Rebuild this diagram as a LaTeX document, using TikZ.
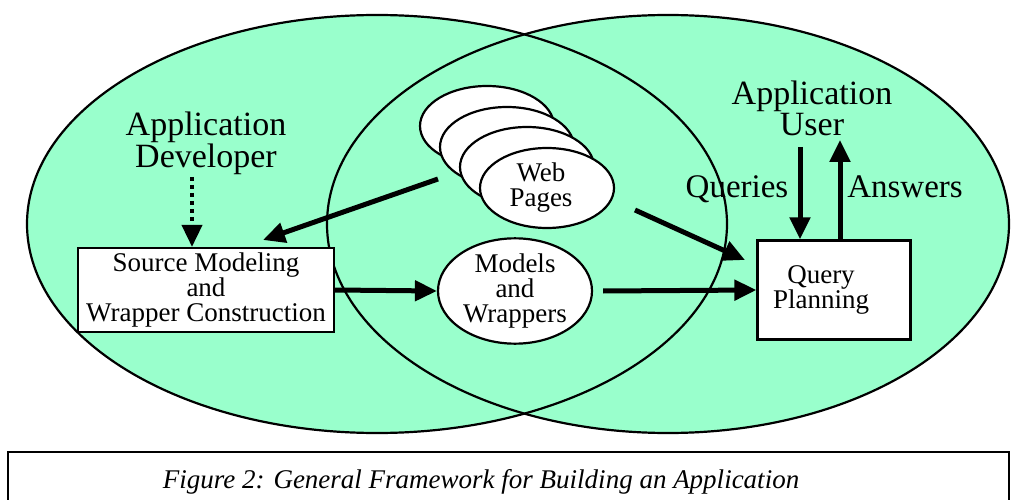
\documentclass[tikz,border=0pt]{standalone}
\usepackage{fontspec}
\setmainfont{Liberation Serif}
\usepackage{tikz}
\usetikzlibrary{shapes.geometric}
\usetikzlibrary{arrows.meta}
\definecolor{aqua}{RGB}{153,255,204}
\newcommand*{\pageX}[3]{%
  \node [ webpage ] (#1) at (#2) {%
    #3
  };
}

\begin{document}
\begin{tikzpicture}[x=1pt, y=-1pt,
    zone/.style = {fill=aqua},
    rim/.style = {draw, line width=2.2pt},
    webpage/.style = {ellipse, draw, fill=white, line width=2.2pt,
                      minimum width=134pt, minimum height=80pt, inner sep=0pt,
                      align=center, font=\fontsize{27}{25}\selectfont},
    stage/.style = {draw, fill=white, line width=2.2pt, inner sep=0pt,
                    align=center, font=\fontsize{27}{25}\selectfont},
    actor/.style = {inner sep=0pt, align=center,
                    font=\fontsize{34}{29.5}\selectfont},
    channel/.style = {inner sep=0pt, anchor=base,
                      font=\fontsize{33}{33}\selectfont},
    flow/.style = {line width=5pt, -{Triangle[length=22pt,width=20pt]}},
    caption/.style = {inner sep=0pt, anchor=base,
                      font=\fontsize{27}{27}\selectfont\itshape}]

\useasboundingbox (0,0) rectangle (1013,500);
%
\fill [zone] (377,224) ellipse [x radius=350, y radius=209];
\fill [zone] (668,224) ellipse [x radius=341, y radius=209];
\draw [rim] (377,224) ellipse [x radius=350, y radius=209];
\draw [rim] (668,224) ellipse [x radius=341, y radius=209];
%
\pageX{page_a}{487,126}{}
\pageX{page_b}{507,147}{}
\pageX{page_c}{527,167}{}
\pageX{web_pages}{547,188}{\hspace*{-12pt}Web\\\hspace*{-12pt}Pages}
%
\node (app_dev) [actor] at (206,143.5) {Application\\Developer};
\node (app_user) [actor] at (812,108.5) {Application\\User};
\node (src_model) [stage, minimum width=256pt, minimum height=84pt] at (206,290)
    {Source Modeling\\and\\Wrapper Construction};
\node (models) [stage, ellipse, minimum width=154pt, minimum height=98pt] at (515,291)
    {Models\\and\\Wrappers};
\node (query_plan) [stage, minimum width=153pt, minimum height=99pt] at (834,290)
    {\hspace*{-26pt}Query\\\hspace*{-26pt}Planning};
\node (queries) [channel] at (737,198) {Queries};
\node (answers) [channel] at (905,198) {Answers};
%
\coordinate (dev_foot) at (192,177);
\coordinate (web_left) at (438,179);
\coordinate (src_in) at (263,240);
\coordinate (web_right) at (635,210);
\coordinate (qp_in) at (745,260);
\coordinate (user_q) at (800,147);
\coordinate (user_a) at (840,140);
%
\draw [flow, line width=4pt, dash pattern=on 4pt off 4pt] (dev_foot) -- (dev_foot |- src_model.north);
\draw [flow] (web_left) -- (src_in);
\draw [flow] (web_right) -- (qp_in);
\draw [flow] (src_model.east) -- (models.west);
\draw [flow] ([xshift=10pt]models.east) -- (query_plan.west);
\draw [flow] (user_q) -- (user_q |- query_plan.north);
\draw [flow] (user_a |- query_plan.north) -- (user_a);
%
\draw [line width=1.5pt] (8,452) rectangle (1009,512);
\node (fig_caption) [caption] at (481,488)
    {Figure 2: General Framework for Building an Application};
\end{tikzpicture}
\end{document}
